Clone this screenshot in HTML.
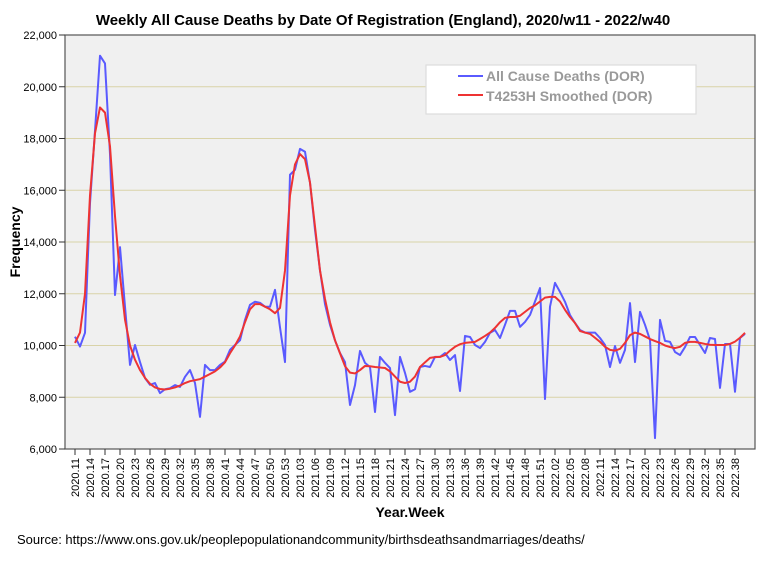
<!DOCTYPE html>
<html><head><meta charset="utf-8"><style>
body{margin:0;background:#fff;font-family:"Liberation Sans",Arial,sans-serif;}
svg text{font-family:"Liberation Sans",Arial,sans-serif;}
</style></head><body>
<svg id="chart" width="773" height="560" viewBox="0 0 773 560" xmlns="http://www.w3.org/2000/svg">
<rect width="773" height="560" fill="#fff"/>
<text x="383" y="25" text-anchor="middle" font-size="15" font-weight="bold">Weekly All Cause Deaths by Date Of Registration (England), 2020/w11 - 2022/w40</text>
<rect x="65" y="35" width="690" height="414" fill="#f0f0f0"/>
<g id="grid"></g>
<g id="series"></g>
<rect x="65" y="35" width="690" height="414" fill="none" stroke="#555" stroke-width="1.2"/>
<g id="yaxis"></g>
<g id="xaxis"></g>
<text transform="translate(20,242) rotate(-90)" text-anchor="middle" font-size="14" font-weight="bold">Frequency</text>
<text x="410" y="517" text-anchor="middle" font-size="14" font-weight="bold">Year.Week</text>
<text x="17" y="544" font-size="13">Source: https://www.ons.gov.uk/peoplepopulationandcommunity/birthsdeathsandmarriages/deaths/</text>
<g>
<rect x="426" y="65" width="270" height="49" fill="#fff" stroke="#ddd" stroke-width="1.2"/>
<line x1="458" y1="76" x2="483" y2="76" stroke="#5a5aff" stroke-width="2"/>
<text x="486" y="81" font-size="14" font-weight="bold" fill="#999">All Cause Deaths (DOR)</text>
<line x1="458" y1="95" x2="483" y2="95" stroke="#ee3333" stroke-width="2"/>
<text x="486" y="101" font-size="14" font-weight="bold" fill="#999">T4253H Smoothed (DOR)</text>
</g>
</svg>
<script>
const yTicks=[6000,8000,10000,12000,14000,16000,18000,20000,22000];
const deaths=[10340,9960,10490,15500,18300,21200,20900,17400,11950,13800,11500,9250,10020,9360,8740,8480,8550,8160,8310,8350,8470,8400,8790,9050,8550,7240,9250,9050,9050,9250,9380,9830,10020,10200,10990,11570,11690,11650,11500,11500,12150,10700,9360,16600,16790,17600,17490,16290,14470,12900,11600,10800,10200,9710,9360,7700,8470,9790,9330,9170,7430,9560,9330,9130,7310,9560,8940,8210,8310,9170,9210,9170,9560,9560,9710,9440,9630,8240,10370,10330,10020,9900,10140,10490,10600,10290,10800,11340,11340,10720,10910,11180,11700,12220,7930,11500,12420,12070,11690,11180,10870,10600,10500,10500,10500,10290,10020,9170,9980,9330,9830,11640,9360,11300,10800,10210,6420,10990,10180,10140,9750,9630,9940,10330,10330,10020,9710,10290,10250,8360,10060,10060,8210,10290,10450];
const smoothed=[10100,10500,12000,15800,18200,19200,19000,17700,15000,12700,11000,10000,9450,9050,8750,8520,8380,8320,8300,8330,8380,8450,8550,8620,8660,8700,8800,8900,9000,9150,9350,9700,10000,10350,10900,11400,11600,11600,11500,11400,11250,11450,12900,15800,17000,17400,17200,16300,14600,12900,11800,10900,10200,9700,9200,8950,8920,9050,9210,9200,9170,9150,9130,9000,8800,8600,8550,8600,8800,9170,9350,9520,9550,9560,9630,9800,9950,10050,10100,10120,10140,10250,10370,10500,10680,10900,11070,11100,11100,11150,11300,11450,11550,11700,11850,11880,11880,11700,11380,11100,10870,10560,10500,10450,10300,10140,9950,9830,9800,9870,10100,10400,10500,10450,10350,10250,10170,10100,10000,9940,9900,9950,10100,10140,10140,10100,10060,10030,10020,10020,10020,10060,10150,10300,10490];
const weekLabels=[];
for(let i=0;i<deaths.length;i++){let y,w;if(i<43){y=2020;w=11+i;}else if(i<95){y=2021;w=i-42;}else{y=2022;w=i-94;}weekLabels.push(y+'.'+String(w).padStart(2,'0'));}

const NS='http://www.w3.org/2000/svg';
const X0=75,DX=5,Y0=449,YTOP=35;
const xs=i=>X0+i*DX;
const ys=v=>Y0-(v-6000)/(22000-6000)*(Y0-YTOP);
function mk(t,a,p){const e=document.createElementNS(NS,t);for(const k in a)e.setAttribute(k,a[k]);p.appendChild(e);return e;}
const grid=document.getElementById('grid'),yax=document.getElementById('yaxis'),xax=document.getElementById('xaxis'),ser=document.getElementById('series');
yTicks.forEach(v=>{
  if(v>6000&&v<22000){const g=mk('line',{x1:65,x2:755,y1:ys(v),y2:ys(v),stroke:'#d9d3a8','stroke-width':1},grid);
  
  }
  const t=mk('line',{x1:59,x2:65,y1:ys(v),y2:ys(v),stroke:'#333'},yax);
  
  
  const l=mk('text',{x:57,y:ys(v)+4,'text-anchor':'end','font-size':11},yax);
  
  
  l.textContent=v.toLocaleString('en-US');
});
for(let i=0;i<weekLabels.length;i+=3){
  const t=mk('line',{x1:xs(i),x2:xs(i),y1:449,y2:455,stroke:'#333'},xax);
  
  
  const l=mk('text',{transform:`translate(${xs(i)+4},458) rotate(-90)`,'text-anchor':'end','font-size':11},xax);
  
  
  l.textContent=weekLabels[i];
}
const p1=mk('polyline',{points:deaths.map((v,i)=>xs(i)+','+ys(v)).join(' '),fill:'none',stroke:'#5a5aff','stroke-width':2,'stroke-linejoin':'round'},ser);


const p2=mk('polyline',{points:smoothed.map((v,i)=>xs(i)+','+ys(v)).join(' '),fill:'none',stroke:'#ee3333','stroke-width':2,'stroke-linejoin':'round'},ser);


</script>
</body></html>
